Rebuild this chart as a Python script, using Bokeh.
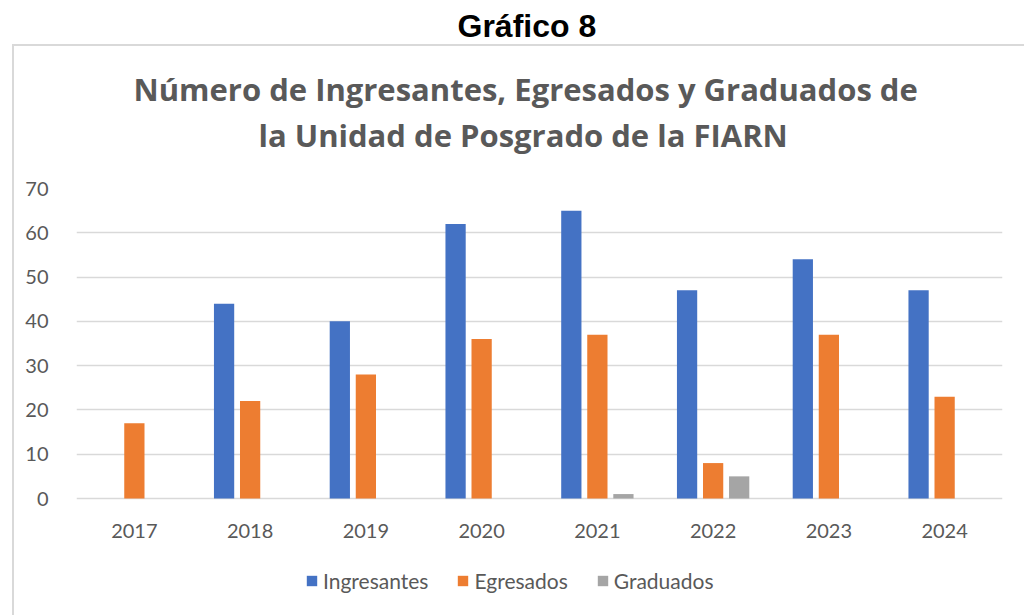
from bokeh.plotting import figure
from bokeh.models import (ColumnDataSource, FactorRange, Range1d, Legend, LegendItem, Title,
                          FixedTicker, InlineStyleSheet)
from bokeh.transform import dodge
from bokeh.embed import file_html
from bokeh.resources import INLINE

years = ["2017", "2018", "2019", "2020", "2021", "2022", "2023", "2024"]
ingresantes = [0, 44, 40, 62, 65, 47, 54, 47]
egresados = [17, 22, 28, 36, 37, 8, 37, 23]
graduados = [0, 0, 0, 0, 1, 5, 0, 0]
series_names = ["Ingresantes", "Egresados", "Graduados"]
colors = ["#4472C4", "#ED7D31", "#A5A5A5"]
y_ticks = [0, 10, 20, 30, 40, 50, 60, 70]

src = ColumnDataSource(dict(years=years, ing=ingresantes, egr=egresados, gra=graduados))

TXT = "#595959"
W, H = 1024, 615
FT, FB = 188, 615          # frame top / bottom (px)
PX_PER_UNIT = 310 / 70.0   # 0 -> 498px, 70 -> 188px
y_start = 70 - (FB - FT) / PX_PER_UNIT

border_css = InlineStyleSheet(css="""
:host::after {
  content: "";
  position: absolute;
  left: 12px; top: 44px;
  width: 1012px; height: 571px;
  border-top: 2px solid #d9d9d9;
  border-left: 2px solid #d9d9d9;
  box-sizing: border-box;
  pointer-events: none;
  z-index: 10;
}
""")

p = figure(x_range=FactorRange(*years), y_range=Range1d(y_start, 70), width=W, height=H,
           output_backend="svg", toolbar_location=None,
           min_border_left=76, min_border_right=22, min_border_top=FT, min_border_bottom=0,
           stylesheets=[border_css])

fields = ["ing", "egr", "gra"]
offsets = [-0.225, 0.0, 0.225]
renderers = []
for f, off, c in zip(fields, offsets, colors):
    r = p.vbar(x=dodge("years", off, range=p.x_range), top=f, bottom=0, width=0.175, source=src,
               fill_color=c, line_color=None)
    renderers.append(r)

p.xgrid.grid_line_color = None
p.ygrid.grid_line_color = "#d9d9d9"
p.ygrid.grid_line_width = 1.3
p.outline_line_color = None

for ax in (p.xaxis[0], p.yaxis[0]):
    ax.axis_line_color = None
    ax.major_tick_line_color = None
    ax.minor_tick_line_color = None
    ax.major_label_text_color = TXT
    ax.major_label_text_font = "Lato"
    ax.major_label_text_font_size = "20px"
p.yaxis[0].ticker = FixedTicker(ticks=y_ticks)
p.yaxis[0].major_label_standoff = 22
p.xaxis[0].fixed_location = 0
p.xaxis[0].major_label_standoff = 19
p.x_range.range_padding = 0
p.x_range.group_padding = 0

legend = Legend(items=[LegendItem(label=n, renderers=[r]) for n, r in zip(series_names, renderers)],
                orientation="horizontal", location=(229, 22),
                border_line_color=None, background_fill_alpha=0,
                label_text_font="Lato", label_text_font_size="21px", label_text_color=TXT,
                glyph_width=13, glyph_height=13, spacing=28, label_standoff=5, margin=0, padding=4)
p.add_layout(legend)

# titles stacked from the frame outward
p.title.text = "Gráfico 8"
p.title.align = "left"
p.title.offset = 381
p.title.text_font = "Liberation Sans"
p.title.text_font_size = "32px"
p.title.text_color = "black"
p.title.standoff = 0

spacer_low = Title(text=" ", text_font_size="1px", standoff=29)
t2 = Title(text="la Unidad de Posgrado de la FIARN", align="left", offset=182,
           text_font="Open Sans", text_font_style="bold", text_font_size="31px",
           text_color=TXT, standoff=2)
t1 = Title(text="Número de Ingresantes, Egresados y Graduados de", align="left", offset=57,
           text_font="Open Sans", text_font_style="bold", text_font_size="31px",
           text_color=TXT, standoff=2)
spacer_high = Title(text=" ", text_font_size="1px", standoff=18)
p.add_layout(spacer_low, "above")
p.add_layout(t2, "above")
p.add_layout(t1, "above")
p.add_layout(spacer_high, "above")

open("out.html", "w").write(file_html(p, INLINE))
